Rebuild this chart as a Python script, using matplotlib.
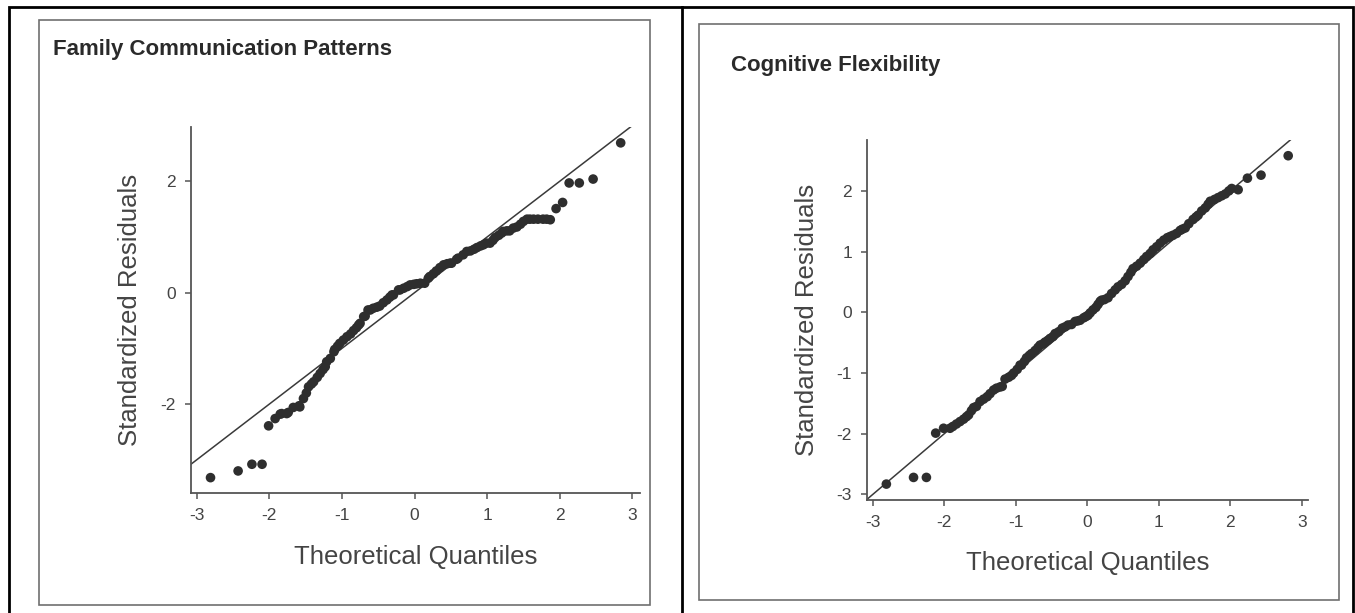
import matplotlib
matplotlib.use('Agg')
import matplotlib.pyplot as plt
from matplotlib.patches import Rectangle
from matplotlib.lines import Line2D

# Q-Q plots of standardized residuals
fcp_theoretical = [
    -2.81, -2.43, -2.24, -2.10, -2.01, -1.92, -1.85, -1.83, -1.76, -1.74,
    -1.67, -1.59, -1.58, -1.53, -1.49, -1.46, -1.42, -1.39, -1.34, -1.30,
    -1.26, -1.23, -1.21, -1.16, -1.11, -1.10, -1.06, -1.03, -0.98, -0.93,
    -0.88, -0.84, -0.80, -0.77, -0.75, -0.70, -0.68, -0.64, -0.61, -0.57,
    -0.52, -0.48, -0.43, -0.38, -0.34, -0.31, -0.29, -0.22, -0.20, -0.15,
    -0.10, -0.06, -0.01, 0.03, 0.08, 0.14, 0.19, 0.21, 0.26, 0.30,
    0.35, 0.40, 0.45, 0.49, 0.51, 0.58, 0.60, 0.67, 0.72, 0.77,
    0.82, 0.86, 0.91, 0.95, 0.99, 1.04, 1.08, 1.11, 1.16, 1.20,
    1.22, 1.27, 1.31, 1.36, 1.41, 1.46, 1.50, 1.55, 1.59, 1.64,
    1.70, 1.77, 1.82, 1.87, 1.95, 2.04, 2.13, 2.27, 2.46, 2.84,
]
fcp_residuals = [
    -3.32, -3.20, -3.08, -3.08, -2.39, -2.26, -2.18, -2.17, -2.17, -2.15,
    -2.06, -2.03, -2.05, -1.90, -1.80, -1.69, -1.64, -1.60, -1.52, -1.45,
    -1.38, -1.33, -1.24, -1.18, -1.06, -1.02, -0.96, -0.91, -0.85, -0.79,
    -0.74, -0.68, -0.63, -0.58, -0.55, -0.43, -0.42, -0.31, -0.31, -0.28,
    -0.26, -0.24, -0.18, -0.13, -0.08, -0.04, -0.04, 0.05, 0.05, 0.08,
    0.11, 0.14, 0.15, 0.16, 0.17, 0.17, 0.26, 0.29, 0.34, 0.39,
    0.45, 0.50, 0.52, 0.53, 0.53, 0.60, 0.62, 0.68, 0.74, 0.75,
    0.78, 0.81, 0.84, 0.86, 0.89, 0.89, 0.94, 0.99, 1.03, 1.07,
    1.10, 1.11, 1.11, 1.16, 1.18, 1.23, 1.28, 1.32, 1.32, 1.32,
    1.32, 1.32, 1.32, 1.31, 1.51, 1.62, 1.97, 1.97, 2.04, 2.69,
]

cf_theoretical = [
    -2.81, -2.43, -2.25, -2.12, -2.01, -1.92, -1.88, -1.83, -1.78, -1.73,
    -1.69, -1.66, -1.62, -1.59, -1.55, -1.50, -1.45, -1.40, -1.36, -1.31,
    -1.27, -1.22, -1.19, -1.15, -1.10, -1.06, -1.03, -0.98, -0.94, -0.92,
    -0.88, -0.85, -0.81, -0.78, -0.73, -0.69, -0.66, -0.62, -0.59, -0.55,
    -0.52, -0.48, -0.45, -0.40, -0.35, -0.31, -0.27, -0.22, -0.17, -0.13,
    -0.10, -0.05, -0.02, 0.01, 0.04, 0.08, 0.12, 0.15, 0.18, 0.20,
    0.24, 0.29, 0.34, 0.39, 0.43, 0.48, 0.53, 0.57, 0.61, 0.64,
    0.69, 0.74, 0.79, 0.83, 0.88, 0.92, 0.97, 1.02, 1.07, 1.12,
    1.16, 1.20, 1.25, 1.30, 1.33, 1.37, 1.42, 1.48, 1.52, 1.55,
    1.60, 1.65, 1.69, 1.72, 1.78, 1.83, 1.88, 1.93, 1.98, 2.02,
    2.11, 2.24, 2.43, 2.81,
]
cf_residuals = [
    -2.83, -2.72, -2.72, -1.99, -1.91, -1.91, -1.88, -1.84, -1.80, -1.76,
    -1.72, -1.69, -1.62, -1.57, -1.55, -1.47, -1.43, -1.39, -1.34, -1.28,
    -1.25, -1.23, -1.22, -1.10, -1.07, -1.04, -1.00, -0.94, -0.87, -0.87,
    -0.81, -0.75, -0.71, -0.68, -0.63, -0.58, -0.54, -0.52, -0.49, -0.46,
    -0.43, -0.40, -0.35, -0.32, -0.26, -0.24, -0.21, -0.20, -0.15, -0.14,
    -0.13, -0.09, -0.07, -0.05, -0.01, 0.04, 0.08, 0.13, 0.18, 0.20,
    0.21, 0.24, 0.31, 0.37, 0.42, 0.46, 0.52, 0.59, 0.66, 0.72,
    0.76, 0.81, 0.87, 0.92, 0.97, 1.03, 1.08, 1.14, 1.19, 1.23,
    1.25, 1.27, 1.30, 1.35, 1.37, 1.39, 1.46, 1.53, 1.57, 1.60,
    1.67, 1.72, 1.78, 1.83, 1.86, 1.89, 1.92, 1.95, 2.00, 2.04,
    2.02, 2.21, 2.26, 2.58,
]

titles = ['Family Communication Patterns', 'Cognitive Flexibility']
left_yticks = [-2, 0, 2]
right_yticks = [-3, -2, -1, 0, 1, 2]
xticks = [-3, -2, -1, 0, 1, 2, 3]

plt.rcParams['font.family'] = ['Liberation Sans', 'DejaVu Sans']
plt.rcParams['axes.unicode_minus'] = False  # reference uses plain hyphens

W, H = 1355, 613
fig = plt.figure(figsize=(W / 100, H / 100), dpi=100)


def px_box(x0, y0, x1, y1):
    # pixel box (top-left origin) -> figure fraction [left, bottom, width, height]
    return [x0 / W, 1 - y1 / H, (x1 - x0) / W, (y1 - y0) / H]


# outer table border and the divider between the two cells
fig.add_artist(Rectangle((9 / W, -0.05), (1353 - 9) / W, 1.05 - 7 / H,
                         transform=fig.transFigure, fill=False, ec='black', lw=2))
fig.add_artist(Line2D([682 / W, 682 / W], [0, 1 - 7 / H],
                      transform=fig.transFigure, color='black', lw=2))

# grey frames of each screenshot
for x0, y0, x1, y1 in [(39, 20, 650, 605), (699, 24, 1339, 600)]:
    l, b, w, h = px_box(x0, y0, x1, y1)
    fig.add_artist(Rectangle((l, b), w, h, transform=fig.transFigure,
                             fill=False, ec='#6f6f6f', lw=1.2))

panels = [
    dict(box=px_box(190.7, 126.7, 640, 493), xlim=(-3.083, 3.106), ylim=(-3.596, 2.98),
         x=fcp_theoretical, y=fcp_residuals, yticks=left_yticks,
         title_xy=(53, 50)),
    dict(box=px_box(866.7, 140, 1308, 500), xlim=(-3.085, 3.087), ylim=(-3.092, 2.839),
         x=cf_theoretical, y=cf_residuals, yticks=right_yticks,
         title_xy=(731, 66)),
]

for p, title in zip(panels, titles):
    ax = fig.add_axes(p['box'])
    ax.scatter(p['x'], p['y'], s=48, color='#2e2e2e', edgecolors='none', zorder=3)
    # reference line y = x
    ax.axline((0, 0), slope=1, color='#3a3a3a', lw=1.1, zorder=2)
    ax.set_xlim(*p['xlim'])
    ax.set_ylim(*p['ylim'])
    ax.set_xticks(xticks)
    ax.set_yticks(p['yticks'])
    ax.spines['top'].set_visible(False)
    ax.spines['right'].set_visible(False)
    for s in ['left', 'bottom']:
        ax.spines[s].set_color('#555555')
        ax.spines[s].set_linewidth(1.3)
    ax.tick_params(direction='out', length=4.5, width=1.1, color='#555555',
                   labelcolor='#444444', labelsize=12.5, pad=6)
    ax.set_xlabel('Theoretical Quantiles', fontsize=18.5, color='#444444')
    ax.set_ylabel('Standardized Residuals', fontsize=18.5, color='#444444')
    ax.xaxis.label.set_va('center')
    ax.yaxis.label.set_va('center')
    ax.xaxis.set_label_coords(0.5, -0.175)
    ax.yaxis.set_label_coords(-0.136, 0.5)
    tx, ty = p['title_xy']
    fig.text(tx / W, 1 - ty / H, title, fontsize=16, fontweight='bold',
             color='#2a2a2a', ha='left', va='center')

fig.savefig('out.png', dpi=100)
